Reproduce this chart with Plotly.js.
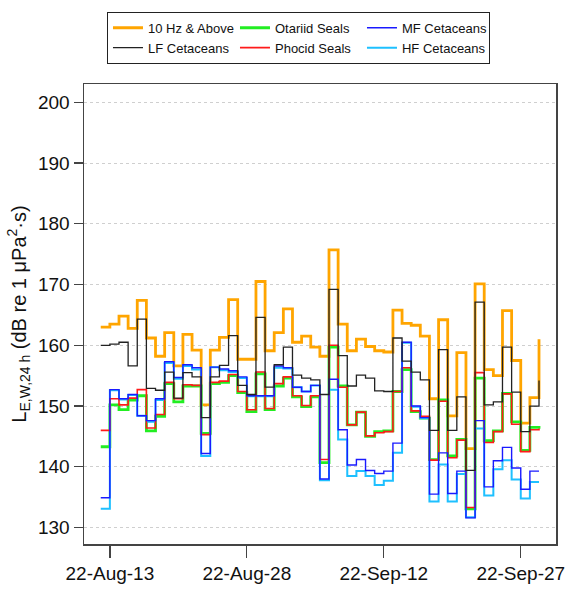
<!DOCTYPE html>
<html>
<head>
<meta charset="utf-8">
<script src="https://cdn.plot.ly/plotly-3.0.1.min.js"></script>
<style>
  html, body { margin: 0; padding: 0; background: #fff; }
  #chart { width: 569px; height: 591px; }
</style>
</head>
<body>
<div id="chart"></div>
<script>
// Daily dates (step starts)
const dates = [
  "2022-08-12","2022-08-13","2022-08-14","2022-08-15","2022-08-16","2022-08-17","2022-08-18",
  "2022-08-19","2022-08-20","2022-08-21","2022-08-22","2022-08-23","2022-08-24","2022-08-25",
  "2022-08-26","2022-08-27","2022-08-28","2022-08-29","2022-08-30","2022-08-31","2022-09-01",
  "2022-09-02","2022-09-03","2022-09-04","2022-09-05","2022-09-06","2022-09-07","2022-09-08",
  "2022-09-09","2022-09-10","2022-09-11","2022-09-12","2022-09-13","2022-09-14","2022-09-15",
  "2022-09-16","2022-09-17","2022-09-18","2022-09-19","2022-09-20","2022-09-21","2022-09-22",
  "2022-09-23","2022-09-24","2022-09-25","2022-09-26","2022-09-27","2022-09-28","2022-09-29"
];

const hz10Above = [163.0,163.5,164.8,162.8,167.4,161.2,158.2,162.1,156.6,161.8,159.2,150.2,159.2,161.3,
  167.5,157.7,157.7,170.5,159.1,162.1,166.0,160.5,161.5,159.7,158.2,175.7,163.5,159.1,161.0,159.8,
  159.1,158.9,165.8,163.6,163.3,161.5,151.2,164.2,148.4,158.8,143.0,170.1,156.0,155.0,165.7,157.5,
  147.2,151.4,161.0];

const lfCetaceans = [160.0,160.2,160.5,156.6,164.3,152.9,152.6,155.6,151.3,155.5,154.8,148.1,154.8,156.7,
  161.6,153.4,151.9,164.6,153.1,156.8,159.7,155.1,154.6,154.3,151.9,169.2,158.3,153.3,155.1,154.6,
  152.5,152.4,161.2,157.4,155.6,154.3,146.0,159.3,146.0,151.5,139.4,167.1,150.2,150.7,159.7,152.3,
  145.8,150.0,154.2];

const otariidSeals = [143.3,150.2,149.4,151.0,151.7,145.9,148.3,153.7,150.7,153.3,153.3,145.5,153.7,153.9,
  155.0,152.2,149.1,155.3,149.4,153.3,154.6,151.5,149.9,151.5,140.7,159.7,153.3,146.9,149.0,145.0,
  145.8,145.9,152.4,156.0,149.1,148.0,141.2,151.0,141.8,144.5,133.1,154.6,144.3,145.9,152.1,147.4,
  142.7,146.5,146.7];

const phocidSeals = [146.0,151.2,150.2,151.3,152.7,146.4,148.6,153.9,151.2,153.5,153.4,145.3,153.9,154.1,
  155.2,152.4,149.4,155.6,149.6,153.7,154.8,151.7,150.1,151.7,141.2,160.0,153.1,146.9,149.0,145.1,
  145.6,145.8,152.4,156.3,149.2,148.3,141.1,150.8,141.5,144.4,133.3,155.5,144.0,145.8,152.0,147.0,
  142.5,146.1,146.3];

const mfCetaceans = [134.9,152.7,151.2,151.9,148.4,147.6,151.2,157.3,154.7,156.8,156.3,142.2,156.4,156.1,
  155.8,154.8,151.7,151.7,151.7,156.6,156.3,153.1,152.4,153.4,138.0,154.4,146.1,140.3,141.2,139.4,
  138.9,139.3,143.9,160.5,150.0,148.1,135.5,142.3,135.6,139.3,131.6,147.6,136.7,141.0,143.2,139.8,
  136.3,139.3,139.3];

const hfCetaceans = [133.1,152.6,151.1,151.8,148.4,147.4,151.0,157.1,154.5,156.6,156.0,141.8,156.4,155.9,
  155.6,154.6,151.6,151.6,151.6,156.3,156.2,153.1,152.4,153.4,137.8,152.7,144.5,138.5,139.3,138.5,
  137.0,137.7,142.3,160.4,149.9,148.0,134.3,140.4,134.3,138.8,131.7,146.3,135.3,139.6,141.1,137.9,
  134.8,137.5,137.5];

const tickDates = ["2022-08-13","2022-08-28","2022-09-12","2022-09-27"];
const tickLabels = ["22-Aug-13","22-Aug-28","22-Sep-12","22-Sep-27"];
const yTicks = [130,140,150,160,170,180,190,200];

function tr(name, y, color, width, rank) {
  return {
    type: 'scatter', mode: 'lines', x: dates, y: y, name: name,
    line: { shape: 'hv', color: color, width: width },
    legendrank: rank, hoverinfo: 'skip'
  };
}

const traces = [
  tr('10 Hz & Above', hz10Above, '#FFA500', 2.8, 1),
  tr('Otariid Seals', otariidSeals, '#22EE22', 2.8, 2),
  tr('HF Cetaceans', hfCetaceans, '#1EC0FF', 2.0, 6),
  tr('Phocid Seals', phocidSeals, '#FF1A1A', 1.6, 5),
  tr('MF Cetaceans', mfCetaceans, '#1A1AFF', 1.4, 3),
  tr('LF Cetaceans', lfCetaceans, '#222222', 1.3, 4)
];

const layout = {
  width: 569, height: 591,
  margin: { l: 84, r: 13, t: 79, b: 47 },
  paper_bgcolor: '#ffffff', plot_bgcolor: '#ffffff',
  font: { family: 'Liberation Sans, Arial, sans-serif', color: '#111' },
  showlegend: true,
  legend: {
    orientation: 'h', x: 0.0487, xanchor: 'left', y: 1.157, yanchor: 'top',
    bordercolor: '#222', borderwidth: 1, bgcolor: '#fff',
    font: { size: 13, color: '#111' },
    entrywidth: 82, entrywidthmode: 'pixels',
    traceorder: 'normal', tracegroupgap: 0
  },
  xaxis: {
    type: 'date',
    range: ['2022-08-10 04:00', '2022-09-30 20:40'],
    tickvals: tickDates, ticktext: tickLabels,
    ticks: 'outside', ticklen: 12, tickwidth: 1.3, tickcolor: '#444',
    tickfont: { size: 19, color: '#111' },
    showgrid: false, zeroline: false,
    showline: true, linecolor: '#444', linewidth: 1.5, mirror: true
  },
  yaxis: {
    range: [127.3, 203.0],
    tickvals: yTicks,
    ticks: 'outside', ticklen: 9, tickwidth: 1.3, tickcolor: '#444',
    tickfont: { size: 19, color: '#111' },
    showgrid: true, gridcolor: '#cfcfcf', gridwidth: 1, griddash: 'dot',
    zeroline: false,
    showline: true, linecolor: '#444', linewidth: 1.5, mirror: true,
    title: {
      text: 'L<sub>E,W,24 h</sub> (dB re 1 μPa<sup>2</sup>·s)',
      font: { size: 20, color: '#111' },
      standoff: 6
    },
    automargin: false
  }
};

Plotly.newPlot('chart', traces, layout, { displayModeBar: false, staticPlot: true });
</script>
</body>
</html>
